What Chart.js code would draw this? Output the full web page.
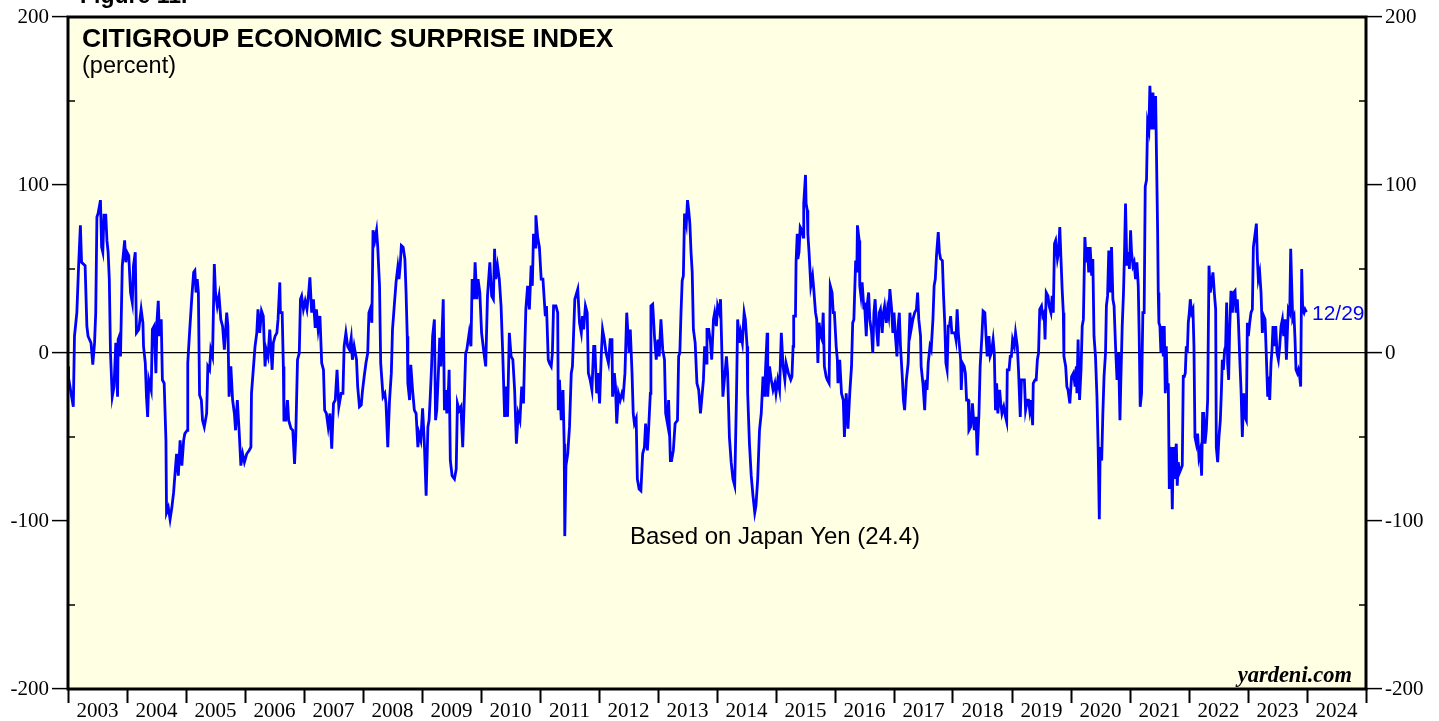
<!DOCTYPE html>
<html>
<head>
<meta charset="utf-8">
<script src="https://cdn.jsdelivr.net/npm/chart.js@4.4.0/dist/chart.umd.min.js"></script>
<style>
  body { margin: 0; background: #fff; }
  canvas { display: block; }
</style>
</head>
<body>
<canvas id="myChart" width="1439" height="721"></canvas>
<script>
// weekly-ish readings, decimal years
var dates = [
    2003.00,2003.01,2003.09,2003.11,2003.15,2003.18,2003.21,2003.23,2003.29,2003.32,2003.34,2003.39,2003.42,2003.45,2003.47,2003.49,2003.51,2003.55,2003.57,2003.59,2003.61,2003.64,2003.66,2003.68,2003.70,2003.72,2003.75,2003.78,2003.81,2003.84,2003.85,2003.87,2003.89,2003.92,2003.96,2003.98,
    2004.00,2004.03,2004.06,2004.09,2004.11,2004.14,2004.16,2004.20,2004.24,2004.27,2004.28,2004.31,2004.33,2004.35,2004.37,2004.41,2004.43,2004.46,2004.49,2004.51,2004.53,2004.55,2004.58,2004.60,2004.63,2004.66,2004.67,2004.70,2004.73,2004.76,2004.79,2004.82,2004.84,2004.87,2004.90,2004.93,2004.96,2004.98,
    2005.02,2005.03,2005.06,2005.10,2005.13,2005.15,2005.17,2005.19,2005.21,2005.23,2005.26,2005.28,2005.31,2005.35,2005.37,2005.40,2005.42,2005.45,2005.48,2005.50,2005.53,2005.56,2005.59,2005.62,2005.65,2005.69,2005.71,2005.73,2005.76,2005.79,2005.82,2005.84,2005.87,2005.90,2005.93,2005.96,2005.99,
    2006.03,2006.07,2006.10,2006.11,2006.14,2006.17,2006.20,2006.22,2006.25,2006.28,2006.31,2006.34,2006.36,2006.39,2006.42,2006.44,2006.46,2006.48,2006.51,2006.54,2006.56,2006.59,2006.60,2006.63,2006.65,2006.66,2006.69,2006.72,2006.74,2006.78,2006.81,2006.84,2006.86,2006.89,2006.92,2006.94,2006.96,2006.99,
    2007.02,2007.05,2007.08,2007.10,2007.13,2007.16,2007.19,2007.21,2007.24,2007.27,2007.30,2007.33,2007.35,2007.38,2007.41,2007.44,2007.47,2007.50,2007.53,2007.56,2007.59,2007.63,2007.66,2007.68,2007.71,2007.74,2007.77,2007.80,2007.82,2007.85,2007.89,2007.91,2007.94,2007.97,2007.99,
    2008.02,2008.05,2008.08,2008.10,2008.12,2008.15,2008.17,2008.20,2008.23,2008.25,2008.28,2008.30,2008.32,2008.34,2008.37,2008.39,2008.42,2008.45,2008.48,2008.50,2008.53,2008.56,2008.59,2008.61,2008.63,2008.65,2008.68,2008.71,2008.73,2008.75,2008.76,2008.79,2008.81,2008.84,2008.87,2008.90,2008.93,2008.95,2008.98,
    2009.01,2009.04,2009.07,2009.10,2009.12,2009.14,2009.16,2009.18,2009.21,2009.23,2009.25,2009.28,2009.30,2009.32,2009.36,2009.38,2009.41,2009.42,2009.45,2009.46,2009.48,2009.51,2009.55,2009.58,2009.60,2009.63,2009.66,2009.69,2009.72,2009.74,2009.76,2009.80,2009.83,2009.85,2009.88,2009.90,2009.93,2009.95,2009.98,
    2010.01,2010.05,2010.08,2010.11,2010.15,2010.18,2010.21,2010.23,2010.25,2010.28,2010.31,2010.34,2010.37,2010.40,2010.42,2010.45,2010.48,2010.51,2010.54,2010.57,2010.60,2010.63,2010.66,2010.69,2010.72,2010.74,2010.76,2010.79,2010.82,2010.85,2010.87,2010.89,2010.92,2010.93,2010.96,2010.99,
    2011.02,2011.05,2011.09,2011.11,2011.14,2011.16,2011.19,2011.21,2011.23,2011.27,2011.30,2011.31,2011.33,2011.36,2011.39,2011.41,2011.42,2011.44,2011.47,2011.50,2011.53,2011.55,2011.59,2011.64,2011.67,2011.70,2011.72,2011.74,2011.77,2011.80,2011.82,2011.85,2011.88,2011.91,2011.93,2011.96,2011.98,
    2012.01,2012.04,2012.06,2012.09,2012.12,2012.16,2012.19,2012.22,2012.23,2012.26,2012.28,2012.30,2012.33,2012.36,2012.39,2012.41,2012.44,2012.47,2012.49,2012.51,2012.53,2012.56,2012.58,2012.60,2012.63,2012.65,2012.68,2012.71,2012.74,2012.77,2012.79,2012.82,2012.84,2012.87,2012.88,2012.91,2012.94,2012.97,
    2013.00,2013.02,2013.05,2013.08,2013.11,2013.13,2013.16,2013.18,2013.21,2013.23,2013.26,2013.29,2013.33,2013.35,2013.37,2013.39,2013.41,2013.43,2013.45,2013.48,2013.50,2013.52,2013.54,2013.56,2013.58,2013.60,2013.63,2013.66,2013.69,2013.72,2013.74,2013.77,2013.79,2013.82,2013.83,2013.86,2013.89,2013.91,2013.94,2013.96,2013.99,
    2014.01,2014.04,2014.06,2014.08,2014.10,2014.13,2014.16,2014.18,2014.21,2014.24,2014.27,2014.30,2014.33,2014.35,2014.38,2014.40,2014.43,2014.46,2014.48,2014.51,2014.52,2014.55,2014.58,2014.61,2014.64,2014.66,2014.69,2014.72,2014.75,2014.78,2014.81,2014.82,2014.85,2014.86,2014.89,2014.92,2014.95,2014.98,
    2015.00,2015.03,2015.06,2015.09,2015.12,2015.15,2015.17,2015.21,2015.25,2015.27,2015.29,2015.30,2015.33,2015.34,2015.36,2015.37,2015.39,2015.41,2015.44,2015.46,2015.47,2015.50,2015.51,2015.53,2015.54,2015.56,2015.59,2015.62,2015.64,2015.67,2015.69,2015.71,2015.73,2015.76,2015.78,2015.80,2015.82,2015.85,2015.87,2015.90,2015.92,2015.95,2015.97,2015.99,
    2016.02,2016.04,2016.05,2016.08,2016.11,2016.14,2016.16,2016.19,2016.22,2016.25,2016.28,2016.30,2016.32,2016.35,2016.37,2016.38,2016.41,2016.42,2016.44,2016.46,2016.49,2016.50,2016.53,2016.55,2016.57,2016.59,2016.62,2016.64,2016.66,2016.68,2016.71,2016.73,2016.75,2016.77,2016.80,2016.82,2016.84,2016.87,2016.89,2016.91,2016.93,2016.96,2016.98,
    2017.00,2017.02,2017.05,2017.07,2017.09,2017.11,2017.14,2017.16,2017.18,2017.21,2017.24,2017.27,2017.29,2017.32,2017.35,2017.38,2017.40,2017.42,2017.45,2017.46,2017.49,2017.52,2017.54,2017.56,2017.58,2017.61,2017.63,2017.66,2017.68,2017.70,2017.72,2017.75,2017.77,2017.79,2017.82,2017.84,2017.86,2017.88,2017.90,2017.92,2017.94,2017.96,2017.98,
    2018.01,2018.03,2018.05,2018.07,2018.09,2018.11,2018.13,2018.14,2018.16,2018.19,2018.21,2018.23,2018.26,2018.27,2018.30,2018.33,2018.36,2018.39,2018.41,2018.44,2018.46,2018.49,2018.51,2018.54,2018.56,2018.58,2018.61,2018.63,2018.65,2018.68,2018.70,2018.72,2018.74,2018.76,2018.79,2018.81,2018.83,2018.86,2018.89,2018.91,2018.92,2018.95,2018.97,2018.99,
    2019.01,2019.04,2019.06,2019.09,2019.11,2019.14,2019.16,2019.19,2019.21,2019.23,2019.26,2019.28,2019.30,2019.32,2019.35,2019.36,2019.39,2019.41,2019.43,2019.45,2019.47,2019.50,2019.52,2019.545,2019.56,2019.58,2019.61,2019.63,2019.66,2019.68,2019.70,2019.72,2019.74,2019.77,2019.79,2019.81,2019.83,2019.85,2019.87,2019.88,2019.91,2019.93,2019.95,2019.98,
    2020.01,2020.04,2020.07,2020.09,2020.10,2020.12,2020.145,2020.17,2020.19,2020.21,2020.235,2020.26,2020.28,2020.30,2020.325,2020.35,2020.37,2020.39,2020.415,2020.44,2020.46,2020.48,2020.495,2020.52,2020.54,2020.56,2020.585,2020.60,2020.62,2020.64,2020.665,2020.687,2020.71,2020.73,2020.755,2020.78,2020.806,2020.83,2020.845,2020.868,2020.89,2020.907,2020.924,2020.947,2020.97,2020.99,
    2021.01,2021.026,2021.05,2021.07,2021.094,2021.117,2021.14,2021.156,2021.173,2021.196,2021.218,2021.24,2021.258,2021.28,2021.298,2021.32,2021.337,2021.366,2021.389,2021.411,2021.434,2021.451,2021.468,2021.479,2021.490,2021.507,2021.524,2021.547,2021.564,2021.581,2021.598,2021.615,2021.632,2021.649,2021.666,2021.683,2021.700,2021.717,2021.734,2021.751,2021.768,2021.785,2021.801,2021.818,2021.841,2021.864,2021.886,2021.903,2021.920,2021.937,2021.954,2021.971,2021.988,
    2022.005,2022.022,2022.045,2022.067,2022.084,2022.101,2022.124,2022.146,2022.169,2022.192,2022.214,2022.231,2022.248,2022.271,2022.293,2022.316,2022.339,2022.361,2022.384,2022.406,2022.429,2022.452,2022.463,2022.486,2022.508,2022.531,2022.548,2022.565,2022.582,2022.604,2022.621,2022.638,2022.655,2022.672,2022.689,2022.712,2022.735,2022.757,2022.780,2022.797,2022.819,2022.836,2022.859,2022.882,2022.904,2022.927,2022.949,2022.972,2022.989,
    2023.006,2023.029,2023.051,2023.074,2023.091,2023.113,2023.142,2023.159,2023.175,2023.198,2023.221,2023.243,2023.266,2023.289,2023.311,2023.334,2023.351,2023.368,2023.390,2023.407,2023.424,2023.447,2023.470,2023.492,2023.515,2023.537,2023.560,2023.583,2023.605,2023.628,2023.651,2023.667,2023.684,2023.707,2023.724,2023.741,2023.758,2023.780,2023.797,2023.814,2023.837,2023.854,2023.876,2023.893,2023.910,2023.927,2023.950,2023.967,2023.990
];
var values = [
    -8,-15,-32,10,24,52,76,54,52,16,10,6,-7,6,24,81,83,91,63,60,82,82,67,60,44,0,-26,-20,6,-26,8,10,-2,52,67,54,
    60,58,36,30,52,60,12,14,26,18,4,-6,-26,-38,-16,-22,14,16,-12,20,31,10,20,-16,-18,-52,-95,-92,-99,-92,-83,-69,-60,-73,-52,-67,-52,-48,
    -46,-6,12,34,48,49,36,44,36,-25,-28,-40,-44,-36,-8,-10,2,-2,53,36,28,34,20,16,2,24,16,-26,-8,-28,-36,-46,-28,-46,-67,-60,-65,
    -60,-58,-56,-24,-10,4,12,26,12,25,22,-8,2,-2,14,2,-10,6,10,12,20,42,24,24,-8,-40,-40,-28,-40,-45,-46,-66,-50,-4,0,32,34,26,
    31,26,36,45,24,32,15,26,14,22,-6,-10,-34,-36,-44,-36,-57,-30,-28,-10,-32,-24,-24,4,12,4,2,9,-4,4,-4,-20,-32,-31,-23,
    -14,-6,0,24,26,18,73,67,73,63,40,-6,-16,-26,-24,-30,-56,-28,-12,14,28,42,51,44,52,64,63,56,36,10,-18,-28,-7,-22,-34,-36,-56,-48,-52,
    -33,-54,-85,-44,-40,-26,-10,10,20,-40,-34,-10,9,-8,32,-34,-22,-36,-20,-10,-64,-73,-75,-69,-30,-34,-32,-56,-24,0,2,12,4,44,32,54,32,44,36,
    12,0,-8,34,54,34,32,62,44,52,44,28,-2,-38,-20,-38,12,-2,-4,-22,-54,-36,-40,-20,-30,0,26,40,26,52,40,71,63,82,69,63,
    44,44,22,28,-4,-6,-8,0,28,28,24,-34,-16,-40,-22,-54,-109,-67,-60,-44,-12,-8,32,38,18,12,22,14,28,24,-12,-16,-22,4,4,-24,-12,
    -30,0,14,8,0,-6,8,8,-26,-12,-20,-42,-24,-28,-24,-26,-12,24,12,0,14,-12,-36,-42,-39,-75,-81,-82,-60,-56,-42,-58,-46,-24,28,29,10,-4,
    8,-2,20,2,-4,-36,-42,-28,-64,-64,-58,-42,-40,-2,0,24,43,46,83,77,91,85,77,60,48,14,6,-18,-22,-36,-28,-16,4,-6,14,14,6,-4,20,24,16,
    28,24,32,4,-26,-14,-2,-12,-50,-65,-75,-79,-26,20,6,12,6,24,20,4,-24,-54,-73,-85,-95,-91,-75,-46,-36,-14,-26,-12,12,-26,-8,-16,-22,-18,
    -24,-16,-22,12,-8,-16,-6,-12,-16,-14,4,22,22,54,71,56,60,75,73,69,89,106,89,85,71,60,40,46,38,24,20,-6,18,10,8,24,-8,-14,-16,-18,40,36,24,24,
    4,-4,-18,-4,-24,-28,-50,-24,-45,-24,-8,18,20,55,48,76,67,40,34,42,26,30,10,30,36,20,12,0,24,32,12,4,24,26,12,24,28,18,26,22,38,26,12,
    24,12,-2,16,24,4,-14,-28,-34,-16,-6,24,14,20,24,26,36,20,10,-8,-18,-34,-16,-22,-6,4,2,20,40,44,58,72,60,56,55,34,18,-6,-10,16,16,22,12,
    12,12,8,26,12,4,-4,-22,-6,-8,-12,-28,-28,-46,-44,-30,-46,-38,-61,-36,-8,10,25,24,10,-2,10,-2,0,8,0,-34,-18,-36,-22,-30,-36,-32,-38,-41,-10,-10,-2,-2,
    8,4,12,4,-10,-38,-16,-16,-16,-34,-28,-28,-34,-28,-43,-18,-16,-16,-4,0,26,28,22,24,8,36,34,28,24,34,24,65,67,56,60,75,56,38,24,-2,-8,-20,-22,-30,
    -14,-12,-20,-8,-24,8,-28,-10,16,20,69,54,63,48,63,46,56,10,-2,-26,-56,-99,-56,-64,-36,-14,0,28,34,61,36,63,32,28,4,-16,0,-40,-16,16,36,60,89,52,60,50,
    73,60,52,54,44,54,40,10,-32,-24,24,24,99,103,137,133,159,133,155,133,153,113,73,36,18,16,0,16,-2,16,-24,4,-22,-18,-81,-56,-60,-93,-56,-75,-60,-54,-79,-65,-71,-69,-67,-14,-14,-12,4,0,18,
    24,32,24,26,4,-50,-54,-48,-62,-58,-73,-36,-36,-54,-46,-28,52,36,42,48,36,26,-56,-65,-50,-40,-24,-4,-10,2,4,30,-6,-16,14,37,24,36,37,24,32,20,-2,-22,-50,-24,-38,-40,18,
    10,18,24,26,63,69,77,56,44,48,36,12,22,20,-2,-26,-14,-28,-6,2,16,4,16,0,-4,4,16,20,10,20,-4,12,26,24,62,40,20,22,8,-10,-12,-10,-14,-20,50,26,24,26,24.4
];
var years = [2003, 2004, 2005, 2006, 2007, 2008, 2009, 2010, 2011, 2012, 2013, 2014, 2015, 2016, 2017, 2018, 2019, 2020, 2021, 2022, 2023, 2024];
var yTicks = [-200, -100, 0, 100, 200];
var minorTicks = [-150, -50, 50, 150];

var points = dates.map(function (d, i) { return { x: d, y: values[i] }; });

var serif = '"Liberation Serif", "Times New Roman", serif';
var sans = '"Liberation Sans", Arial, sans-serif';

// yellow plot background, frame, inner minor ticks and the texts
var decor = {
    id: 'decor',
    beforeDraw: function (chart) {
        var a = chart.chartArea, ctx = chart.ctx;
        ctx.save();
        ctx.fillStyle = '#FFFFE4';
        ctx.fillRect(a.left, a.top, a.right - a.left, a.bottom - a.top);
        ctx.restore();
    },
    afterDraw: function (chart) {
        var a = chart.chartArea, ctx = chart.ctx;
        var y = chart.scales.y;
        ctx.save();
        ctx.strokeStyle = '#000';
        ctx.lineWidth = 1.5;
        minorTicks.forEach(function (v) {
            var py = y.getPixelForValue(v);
            ctx.beginPath();
            ctx.moveTo(a.left, py); ctx.lineTo(a.left + 7, py);
            ctx.moveTo(a.right, py); ctx.lineTo(a.right - 7, py);
            ctx.stroke();
        });
        ctx.lineWidth = 3;
        ctx.strokeRect(a.left, a.top, a.right - a.left, a.bottom - a.top);

        ctx.fillStyle = '#000';
        ctx.textAlign = 'left';
        ctx.textBaseline = 'alphabetic';
        ctx.font = 'bold 23px ' + sans;
        ctx.fillText('Figure 11.', 80, 3);
        ctx.font = 'bold 26.5px ' + sans;
        ctx.fillText('CITIGROUP ECONOMIC SURPRISE INDEX', 82, 47);
        ctx.font = '23.5px ' + sans;
        ctx.fillText('(percent)', 82, 73);
        ctx.font = '24px ' + sans;
        ctx.textAlign = 'center';
        ctx.fillText('Based on Japan Yen (24.4)', 775, 544);
        ctx.textAlign = 'right';
        ctx.font = 'italic bold 22.5px ' + serif;
        ctx.fillText('yardeni.com', 1352, 682);
        ctx.textAlign = 'left';
        ctx.fillStyle = '#0000FF';
        ctx.font = '21px ' + sans;
        ctx.fillText('12/29', 1312, 320);
        ctx.restore();
    }
};

var yAxis = function (pos) {
    return {
        type: 'linear',
        position: pos,
        min: -200,
        max: 200,
        afterBuildTicks: function (axis) {
            axis.ticks = yTicks.map(function (v) { return { value: v }; });
        },
        afterFit: function (axis) { axis.width = pos === 'left' ? 68 : 73; },
        border: { display: false },
        grid: {
            drawOnChartArea: pos === 'left',
            color: function (c) { return c.tick && c.tick.value === 0 ? '#000' : 'rgba(0,0,0,0)'; },
            lineWidth: 1.2,
            tickColor: '#000',
            tickWidth: 1.5,
            tickLength: 16
        },
        ticks: {
            color: '#000',
            padding: 3,
            font: { family: serif, size: 21 },
            callback: function (v) { return String(v); }
        }
    };
};

var ctx = document.getElementById('myChart').getContext('2d');
var myChart = new Chart(ctx, {
    type: 'line',
    data: {
        datasets: [{
            label: 'Citigroup Economic Surprise Index',
            data: points,
            yAxisID: 'y',
            borderColor: '#0000FF',
            borderWidth: 2.8,
            pointRadius: 0,
            tension: 0,
            fill: false
        }]
    },
    plugins: [decor],
    options: {
        responsive: false,
        animation: false,
        devicePixelRatio: 1,
        layout: { padding: { top: 17, left: 0, right: 0, bottom: 0 } },
        plugins: { legend: { display: false }, tooltip: { enabled: false } },
        scales: {
            x: {
                type: 'linear',
                min: 2003,
                max: 2025,
                afterBuildTicks: function (axis) {
                    axis.ticks = years.concat([2025]).map(function (v) { return { value: v }; });
                },
                afterFit: function (axis) { axis.height = 32; },
                border: { display: false },
                grid: {
                    drawOnChartArea: false,
                    tickColor: '#000',
                    tickWidth: 2,
                    tickLength: 14
                },
                ticks: {
                    autoSkip: false,
                    maxRotation: 0,
                    color: '#000',
                    padding: -4,
                    labelOffset: 29.5,
                    font: { family: serif, size: 21 },
                    callback: function (v) { return years.indexOf(v) >= 0 ? String(v) : ''; }
                }
            },
            y: yAxis('left'),
            y2: yAxis('right')
        }
    }
});
</script>
</body>
</html>
